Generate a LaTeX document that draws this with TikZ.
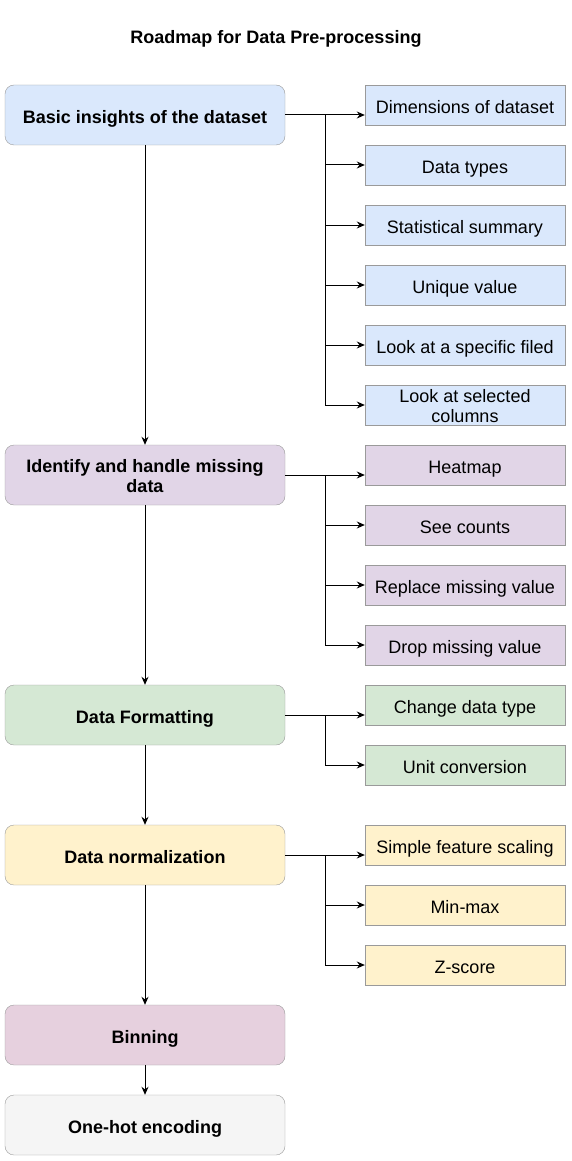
\documentclass[tikz,border=0pt]{standalone}
\usepackage{fontspec}
\setmainfont{Liberation Sans}
\usetikzlibrary{arrows.meta}
\definecolor{blu}{HTML}{DAE8FC}
\definecolor{pur}{HTML}{E1D5E7}
\definecolor{grn}{HTML}{D5E8D4}
\definecolor{yel}{HTML}{FFF2CC}
\definecolor{pnk}{HTML}{E6D0DE}
\definecolor{gry}{HTML}{F5F5F5}
\definecolor{edge}{HTML}{9A9A9A}
\tikzset{every node/.style={font=\fontsize{18}{20}\selectfont,inner sep=0pt}}

\begin{document}
\begin{tikzpicture}[x=1pt,y=-1pt]
\useasboundingbox (0,0) rectangle (571,1161);

\tikzstyle{m}=[shape=rectangle,draw=edge,rounded corners=9pt,minimum width=280pt,minimum height=60pt,align=center,text height=16.5pt,text depth=0pt,font=\fontsize{18}{20}\selectfont\bfseries]
\tikzstyle{s}=[shape=rectangle,draw=edge,minimum width=200pt,minimum height=40pt,align=center,text height=16.5pt,text depth=0pt]
\tikzstyle{two}=[text height=35.5pt]
\tikzstyle{a}=[line width=1pt,-{Stealth[length=8pt,width=7pt]}]

\node[anchor=base,font=\fontsize{18}{20}\selectfont\bfseries] (title) at (276,44) {Roadmap for Data Pre-processing};

% main steps
\node[m,two,fill=pur] (missing) at (145,475) {Identify and handle missing\\data};
\node[m,fill=blu] (basic) at (145,115) {Basic insights of the dataset};
\node[m,fill=grn] (format) at (145,715) {Data Formatting};
\node[m,fill=yel] (norm) at (145,855) {Data normalization};
\node[m,fill=pnk] (bin) at (145,1035) {Binning};
\node[m,fill=gry] (onehot) at (145,1125) {One-hot encoding};

% sub steps
\node[s,fill=blu] (1) at (465,105) {Dimensions of dataset};
\node[s,fill=blu] (2) at (465,165) {Data types};
\node[s,fill=blu] (3) at (465,225) {Statistical summary};
\node[s,fill=blu] (4) at (465,285) {Unique value};
\node[s,fill=blu] (5) at (465,345) {Look at a specific filed};
\node[s,two,fill=blu] (6) at (465,405) {Look at selected\\columns};

\node[s,fill=pur] (7) at (465,465) {Heatmap};
\node[s,fill=pur] (8) at (465,525) {See counts};
\node[s,fill=pur] (9) at (465,585) {Replace missing value};
\node[s,fill=pur] (10) at (465,645) {Drop missing value};

\node[s,fill=grn] (11) at (465,705) {Change data type};
\node[s,fill=grn] (12) at (465,765) {Unit conversion};

\node[s,fill=yel] (13) at (465,845) {Simple feature scaling};
\node[s,fill=yel] (14) at (465,905) {Min-max};
\node[s,fill=yel] (15) at (465,965) {Z-score};

\foreach \x/\y in {basic/missing,missing/format,format/norm,norm/bin,bin/onehot}
  \draw[a] (\x) -- (\y);

% branches
\foreach \x/\y in {basic/1,missing/7,format/11,norm/13}
  \draw[a] (\x) -- (\x -| \y.west);
\foreach \y in {2,...,6}
  \draw[a] (basic.east) -- ++(40,0) |- (\y);
\foreach \y in {8,9,10}
  \draw[a] (missing.east) -- ++(40,0) |- (\y);
\draw[a] (format.east) -- ++(40,0) |- (12);
\foreach \y in {14,15}
  \draw[a] (norm.east) -- ++(40,0) |- (\y);

\end{tikzpicture}
\end{document}
